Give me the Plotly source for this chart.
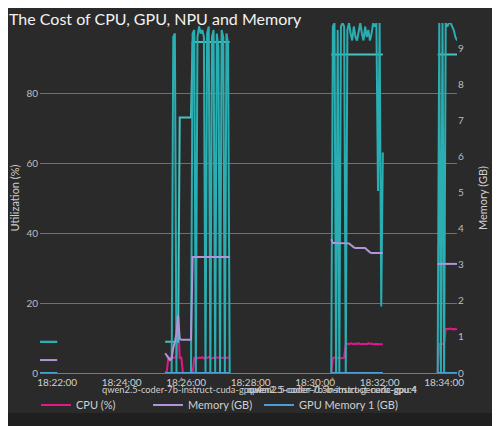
import pandas as pd
import plotly.graph_objects as go

DAY = "2025-06-10 "

# ---- time bases (start, number of samples, step seconds) ----
seg0_start, seg0_n, seg0_step = "18:21:28", 5, 8
run1_start, run1_n, run1_step = "18:25:21", 41, 3
run2_start, run2_n, run2_step = "18:30:30", 33, 3
run3_start, run3_n, run3_step = "18:33:48", 13, 3

# ---- idle segment before first run ----
seg0_gpu_util = [8.9, 8.9, 8.9, 8.9, 8.9]
seg0_gpu_level = [8.9, 8.9, 8.9, 8.9, 8.9]
seg0_cpu = [0, 0, 0, 0, 0]
seg0_mem = [0.36, 0.36, 0.36, 0.36, 0.36]
seg0_gpumem = [0, 0, 0, 0, 0]

# ---- run 1 ----
run1_gpu_util = [0, 0, 0, 0, 0, 96, 97, 0, 0, 0, 0, 0, 0, 0, 0, 0, 0, 97, 98, 0,
                 96, 99, 97, 98, 96, 0, 97, 99, 0, 96, 98, 0, 97, 93, 0, 98, 96, 0, 97, 94, 0]
run1_gpu_level = [8.9, 8.9, 8.9, 8.9, 8.9, 8.9, 8.9, 8.9, 8.9, 73, 73, 73, 73, 73, 73, 73, 73,
                  94.6, 94.6, 94.6, 94.6, 94.6, 94.6, 94.6, 94.6, 94.6, 94.6, 94.6, 94.6, 94.6,
                  94.6, 94.6, 94.6, 94.6, 94.6, 94.6, 94.6, 94.6, 94.6, 94.6, 94.6]
run1_cpu = [0, 0.5, 4.5, 4.2, 4.6, 4.3, 4.4, 4.5, 16, 4.3, 4.4, 0, 0, 0, 0, 0, 0, 0, 4.3, 4.5,
            4.2, 4.4, 4.3, 4.5, 4.2, 4.4, 4.3, 4.6, 4.3, 4.2, 4.4, 4.3, 4.5, 4.3, 4.2, 4.4,
            4.3, 4.5, 4.3, 4.4, 4.3]
run1_mem = [0.55, 0.5, 0.42, 0.36, 0.4, 0.7, 0.85, 1.1, 1.6, 0.95, 0.92, 0.92, 0.92, 0.92,
            0.92, 0.92, 0.92, 3.22, 3.22, 3.22, 3.22, 3.22, 3.22, 3.22, 3.22, 3.22, 3.22, 3.22,
            3.22, 3.22, 3.22, 3.22, 3.22, 3.22, 3.22, 3.22, 3.22, 3.22, 3.22, 3.22, 3.22]
run1_gpumem = [0] * 41

# ---- run 2 ----
run2_gpu_util = [0, 99, 100, 0, 98, 0, 99, 100, 99, 0, 98, 100, 97, 95, 99, 96, 95, 98, 100,
                 97, 95, 99, 96, 98, 95, 97, 100, 99, 100, 52, 100, 19, 63]
run2_gpu_level = [91] * 33
run2_cpu = [0, 4.3, 4.4, 4.2, 4.3, 4.5, 4.3, 4.2, 4.4, 8.3, 8.4, 8.2, 8.5, 8.3, 8.2, 8.4, 8.3,
            8.5, 8.2, 8.3, 8.4, 8.3, 8.2, 8.5, 8.3, 8.4, 8.2, 8.3, 8.4, 8.3, 8.2, 8.3, 8.2]
run2_mem = [3.72, 3.61, 3.61, 3.61, 3.61, 3.61, 3.61, 3.61, 3.6, 3.6, 3.6, 3.6, 3.56, 3.52,
            3.49, 3.47, 3.47, 3.47, 3.47, 3.47, 3.47, 3.47, 3.43, 3.38, 3.35, 3.33, 3.33,
            3.33, 3.33, 3.33, 3.33, 3.33, 3.33]
run2_gpumem = [0] * 33

# ---- run 3 ----
run3_gpu_util = [0, 100, 0, 100, 0, 100, 99, 100, 100, 99, 98, 96, 95]
run3_gpu_level = [91] * 13
run3_cpu = [0, 8.3, 8.3, 8.4, 8.3, 12.6, 12.5, 12.6, 12.7, 12.5, 12.6, 12.6, 12.5]
run3_mem = [3.03] * 13
run3_gpumem = [0] * 13

# ---- axis / annotation text ----
title_text = "The Cost of CPU, GPU, NPU and Memory"
y1_title = "Utilization (%)"
y2_title = "Memory (GB)"
x_range = ["18:21:28", "18:34:24"]
run_marks = ["18:25:52", "18:30:33", "18:30:33"]
run_labels = ["qwen2.5-coder-7b-instruct-cuda-gpu:4",
              "qwen2.5-coder-0.5b-instruct-cuda-gpu:4",
              "qwen2.5-coder-7b-instruct-generic-gpu:4"]

TEAL = "#2aaeb2"
TEAL2 = "#48c2c0"
PINK = "#e3178c"
PURPLE = "#b294d8"
BLUE = "#4a9fd6"

W, H = 492, 418  # page body has an 8px margin; the window is 500x426


def times(start, n, step):
    return list(pd.date_range(DAY + start, periods=n, freq=f"{step}s"))


segs = [(seg0_start, seg0_n, seg0_step), (run1_start, run1_n, run1_step),
        (run2_start, run2_n, run2_step), (run3_start, run3_n, run3_step)]


def join(series_list):
    xs, ys = [], []
    for (st, n, step), vals in zip(segs, series_list):
        if xs:
            xs.append(None)
            ys.append(None)
        xs.extend(times(st, n, step))
        ys.extend(vals)
    return xs, ys


fig = go.Figure()

x, y = join([seg0_cpu, run1_cpu, run2_cpu, run3_cpu])
fig.add_trace(go.Scatter(x=x, y=y, name="CPU (%)", mode="lines", legend="legend",
                         line=dict(color=PINK, width=2), yaxis="y"))
x, y = join([seg0_mem, run1_mem, run2_mem, run3_mem])
fig.add_trace(go.Scatter(x=x, y=y, name="Memory (GB)", mode="lines", legend="legend2",
                         line=dict(color=PURPLE, width=2), yaxis="y2"))
x, y = join([seg0_gpumem, run1_gpumem, run2_gpumem, run3_gpumem])
fig.add_trace(go.Scatter(x=x, y=y, name="GPU Memory 1 (GB)", mode="lines", legend="legend3",
                         line=dict(color=BLUE, width=2), yaxis="y2"))
x, y = join([seg0_gpu_level, run1_gpu_level, run2_gpu_level, run3_gpu_level])
fig.add_trace(go.Scatter(x=x, y=y, name="GPU Memory 1 (%)", mode="lines", showlegend=False,
                         line=dict(color=TEAL2, width=2), yaxis="y"))
x, y = join([seg0_gpu_util, run1_gpu_util, run2_gpu_util, run3_gpu_util])
fig.add_trace(go.Scatter(x=x, y=y, name="GPU 1 (%)", mode="lines", showlegend=False,
                         line=dict(color=TEAL, width=2), yaxis="y"))

FONT = "Segoe UI, Lato, Noto Sans, sans-serif"

annotations = []
for t in sorted(set(run_marks)):
    annotations.append(dict(x=DAY + t, y=0, xref="x", yref="paper", text="▲",
                            showarrow=False, yanchor="top", yshift=1,
                            font=dict(size=7, color="#8a8a8a")))
for t, lab in zip(run_marks, run_labels):
    annotations.append(dict(x=DAY + t, y=-0.046, xref="x", yref="paper", text=lab,
                            showarrow=False, yanchor="middle", xanchor="center",
                            font=dict(size=9.3, color="#d0d0d0")))


def leg(xpix):
    return dict(orientation="h", x=xpix / W, xref="container", xanchor="left",
                y=1 - 397 / H, yref="container", yanchor="middle",
                font=dict(size=11, color="#d0d0d0"), bgcolor="rgba(0,0,0,0)",
                borderwidth=0)


fig.update_layout(
    width=W, height=H,
    margin=dict(l=32, r=43, t=15, b=53, autoexpand=False),
    paper_bgcolor="#2a2a2a", plot_bgcolor="#2a2a2a",
    font=dict(family=FONT, color="#cfcfcf", size=10),
    title=dict(text=title_text, x=0, xanchor="left", xref="container",
               y=1, yanchor="top", yref="container", pad=dict(t=6, l=1),
               font=dict(size=16, color="#f2f2f2", family=FONT)),
    xaxis=dict(type="date", range=[DAY + x_range[0], DAY + x_range[1]],
               tickformat="%H:%M:%S", dtick=120000, tick0=DAY + "18:22:00",
               showgrid=False, showline=True, linecolor="#7a7a7a", linewidth=1,
               ticks="", zeroline=False, automargin=False,
               tickfont=dict(size=10, color="#cfcfcf")),
    yaxis=dict(range=[0, 100], tickvals=[0, 20, 40, 60, 80], showgrid=True,
               gridcolor="#707070", gridwidth=1, zeroline=False, showline=False,
               ticks="", ticklabelstandoff=1, automargin=False,
               title=dict(text=y1_title, font=dict(size=11, color="#cfcfcf"), standoff=10),
               tickfont=dict(size=10, color="#bdbdbd")),
    yaxis2=dict(range=[0, 9.72], dtick=1, overlaying="y", side="right", showgrid=False,
                zeroline=False, showline=False, ticks="", ticklabelstandoff=0,
                automargin=False,
                title=dict(text=y2_title, font=dict(size=11, color="#cfcfcf"), standoff=16),
                tickfont=dict(size=10, color="#bdbdbd")),
    legend=leg(28),
    legend2=leg(140),
    legend3=leg(251),
    annotations=annotations,
    shapes=[dict(type="rect", xref="paper", yref="paper", x0=-0.3, x1=1.3,
                 y0=-0.114, y1=-0.25, fillcolor="#1f1f1f", line=dict(width=0),
                 layer="below")],
)

fig.write_html("out.html")
